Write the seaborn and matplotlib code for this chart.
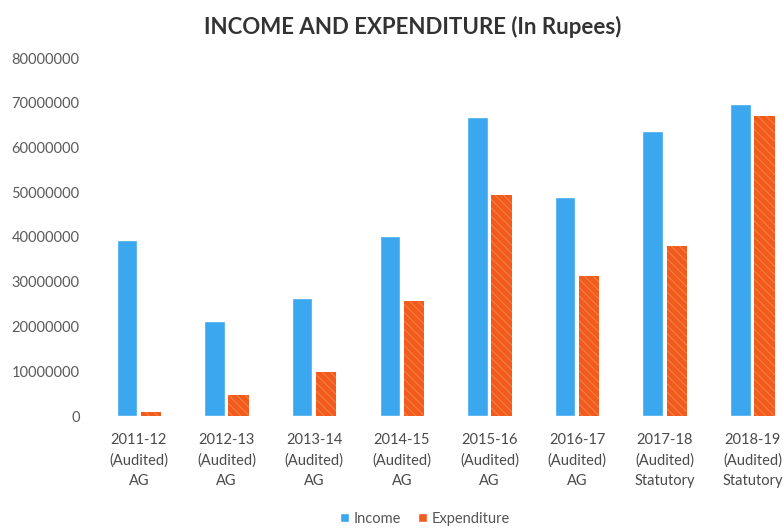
import pandas as pd
import matplotlib.pyplot as plt
import seaborn as sns

# Данные (в рупиях)
years = ['2011-12\n(Audited)\nAG', '2012-13\n(Audited)\nAG', '2013-14\n(Audited)\nAG',
         '2014-15\n(Audited)\nAG', '2015-16\n(Audited)\nAG', '2016-17\n(Audited)\nAG',
         '2017-18\n(Audited)\nStatutory', '2018-19\n(Audited)\nStatutory']
income = [39300000, 21200000, 26400000, 40300000, 66800000, 48900000, 63600000, 69700000]
expenditure = [1000000, 4600000, 9900000, 25600000, 49400000, 31200000, 38100000, 67000000]
y_ticks = [0, 10000000, 20000000, 30000000, 40000000, 50000000, 60000000, 70000000, 80000000]

df = pd.DataFrame({
    'year': years * 2,
    'value': income + expenditure,
    'kind': ['Income'] * len(years) + ['Expenditure'] * len(years),
})

sns.set_theme(style="white")
plt.rcParams['font.family'] = ['Lato', 'DejaVu Sans']
plt.rcParams['hatch.linewidth'] = 0.6

fig = plt.figure(figsize=(7.84, 5.3), dpi=100)
ax = fig.add_axes([95 / 784, 114 / 530, 689 / 784, 358 / 530])

sns.barplot(data=df, x='year', y='value', hue='kind', ax=ax,
            palette={'Income': '#3aa7ee', 'Expenditure': '#f25b1c'},
            width=0.55, gap=0.15, saturation=1, legend=True)

# Штриховка оранжевых столбцов
for bar in ax.containers[1]:
    bar.set_hatch('\\\\\\\\')
    bar.set_edgecolor('#f08a50')
    bar.set_linewidth(0)

ax.set_ylim(0, 80000000)
ax.set_xlim(-0.5, 7.36)
ax.set_yticks(y_ticks)
ax.set_yticklabels([str(v) for v in y_ticks])
ax.set_xlabel('')
ax.set_ylabel('')
sns.despine(ax=ax, left=True, bottom=True)
ax.tick_params(axis='y', labelsize=10.5, labelcolor='#5a5a5a', pad=11, length=0)
ax.tick_params(axis='x', labelsize=10.5, labelcolor='#4a4a4a', pad=12, length=0)
for lbl in ax.get_xticklabels():
    lbl.set_linespacing(1.6)

handles, labels = ax.get_legend_handles_labels()
ax.get_legend().remove()
fig.legend(handles, labels, loc='center', bbox_to_anchor=(425 / 784, 1 - 519 / 530),
           ncol=2, frameon=False, fontsize=10.5, handlelength=0.6, handleheight=0.6,
           handletextpad=0.3, columnspacing=1.2, labelcolor='#555555')

fig.text(413 / 784, 1 - 27 / 530, 'INCOME AND EXPENDITURE (In Rupees)', ha='center', va='center',
         fontsize=16, fontweight='bold', color='#333333')

fig.savefig('out.png', dpi=100)
